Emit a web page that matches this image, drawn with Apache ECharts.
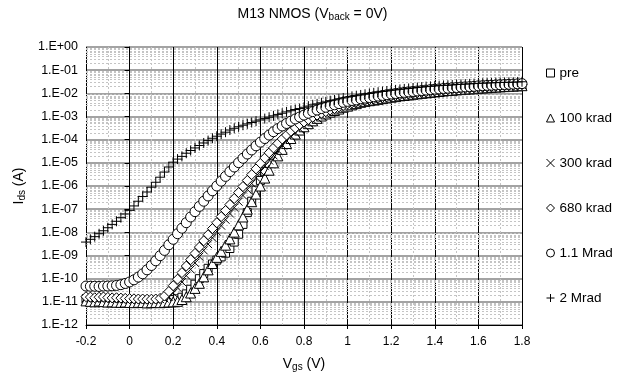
<!DOCTYPE html>
<html>
<head>
<meta charset="utf-8">
<script src="https://cdn.jsdelivr.net/npm/echarts@6/dist/echarts.min.js"></script>
<style>html,body{margin:0;padding:0;background:#fff}#c{width:625px;height:377px}</style>
</head>
<body>
<div id="c"></div>
<script>
// Vgs sweep (V)
const vgs = [-0.2,-0.18,-0.16,-0.14,-0.12,-0.1,-0.08,-0.06,-0.04,-0.02,
0,0.02,0.04,0.06,0.08,0.1,0.12,0.14,0.16,0.18,
0.2,0.22,0.24,0.26,0.28,0.3,0.32,0.34,0.36,0.38,
0.4,0.42,0.44,0.46,0.48,0.5,0.52,0.54,0.56,0.58,
0.6,0.62,0.64,0.66,0.68,0.7,0.72,0.74,0.76,0.78,
0.8,0.82,0.84,0.86,0.88,0.9,0.92,0.94,0.96,0.98,
1,1.02,1.04,1.06,1.08,1.1,1.12,1.14,1.16,1.18,
1.2,1.22,1.24,1.26,1.28,1.3,1.32,1.34,1.36,1.38,
1.4,1.42,1.44,1.46,1.48,1.5,1.52,1.54,1.56,1.58,
1.6,1.62,1.64,1.66,1.68,1.7,1.72,1.74,1.76,1.78,1.8];

// Ids (A) per dose
const idsPre = [1.3e-11,1.25e-11,1.2e-11,1.22e-11,1.28e-11,1.2e-11,1.15e-11,1.18e-11,1.12e-11,1.1e-11,
1.12e-11,1.08e-11,1.05e-11,1.08e-11,1.05e-11,1.1e-11,1.08e-11,1.12e-11,1.15e-11,1.2e-11,1.25e-11,1.35e-11,
1.58e-11,2.2e-11,3.5e-11,5.8e-11,1.0e-10,1.66e-10,2.8e-10,4.3e-10,6.3e-10,8.7e-10,
1.26e-9,2.0e-9,3.8e-9,8.3e-9,2.2e-8,7.1e-8,2.2e-7,6.6e-7,1.74e-6,4.3e-6,
9.5e-6,2.0e-5,3.9e-5,7.1e-5,1.2e-4,1.9e-4,2.8e-4,4.0e-4,5.4e-4,7.1e-4,
8.9e-4,1.1e-3,1.35e-3,1.58e-3,1.86e-3,2.2e-3,2.5e-3,2.9e-3,3.3e-3,
3.6e-3,4.0e-3,4.4e-3,4.8e-3,5.1e-3,5.5e-3,5.9e-3,6.3e-3,6.8e-3,7.2e-3,
7.8e-3,8.3e-3,8.7e-3,9.1e-3,9.8e-3,1.02e-2,1.07e-2,1.12e-2,1.17e-2,1.23e-2,
1.29e-2,1.35e-2,1.41e-2,1.45e-2,1.51e-2,1.55e-2,1.62e-2,1.66e-2,1.7e-2,1.78e-2,
1.82e-2,1.86e-2,1.95e-2,2.0e-2,2.04e-2,2.1e-2,2.14e-2,2.2e-2,2.24e-2,2.3e-2];

const ids100k = [1.1e-11,1.05e-11,1.0e-11,1.08e-11,1.02e-11,9.8e-12,1.0e-11,9.6e-12,9.5e-12,9.8e-12,
9.4e-12,9.2e-12,9.5e-12,9.3e-12,9.0e-12,9.2e-12,9.4e-12,9.2e-12,9.5e-12,9.8e-12,1.0e-11,1.05e-11,
1.26e-11,1.66e-11,2.4e-11,3.8e-11,6.3e-11,1.2e-10,2.4e-10,4.5e-10,8.3e-10,1.51e-9,
2.8e-9,5.2e-9,1.02e-8,2.1e-8,4.6e-8,1.0e-7,2.1e-7,4.5e-7,1.0e-6,2.2e-6,
4.8e-6,1.0e-5,2.0e-5,3.8e-5,6.8e-5,1.12e-4,1.74e-4,2.6e-4,3.6e-4,4.9e-4,
6.5e-4,8.3e-4,1.05e-3,1.29e-3,1.55e-3,1.82e-3,2.1e-3,2.5e-3,2.8e-3,
3.2e-3,3.6e-3,4.1e-3,4.5e-3,4.8e-3,5.1e-3,5.5e-3,5.9e-3,6.3e-3,6.8e-3,
7.2e-3,7.8e-3,8.1e-3,8.5e-3,9.1e-3,9.5e-3,1.0e-2,1.05e-2,1.1e-2,1.15e-2,
1.2e-2,1.26e-2,1.32e-2,1.35e-2,1.41e-2,1.45e-2,1.51e-2,1.55e-2,1.58e-2,1.66e-2,
1.7e-2,1.74e-2,1.82e-2,1.86e-2,1.9e-2,1.95e-2,2.0e-2,2.04e-2,2.1e-2,2.14e-2];

const ids300k = [1.45e-11,1.4e-11,1.38e-11,1.42e-11,1.4e-11,1.35e-11,1.33e-11,1.36e-11,1.3e-11,1.28e-11,
1.25e-11,1.25e-11,1.22e-11,1.2e-11,1.2e-11,1.22e-11,1.25e-11,1.3e-11,
1.4e-11,1.66e-11,2.4e-11,4.0e-11,7.2e-11,1.35e-10,2.5e-10,4.8e-10,8.9e-10,1.66e-9,
3.1e-9,5.8e-9,1.07e-8,1.95e-8,3.5e-8,6.5e-8,1.17e-7,2.1e-7,3.9e-7,7.1e-7,
1.29e-6,2.3e-6,4.2e-6,7.2e-6,1.26e-5,2.1e-5,3.5e-5,5.8e-5,9.1e-5,1.38e-4,
2.0e-4,2.9e-4,4.0e-4,5.2e-4,6.8e-4,8.5e-4,1.07e-3,1.32e-3,1.58e-3,1.9e-3,2.2e-3,2.6e-3,3.0e-3,
3.4e-3,3.8e-3,4.3e-3,4.7e-3,5.0e-3,5.4e-3,5.8e-3,6.2e-3,6.6e-3,7.1e-3,
7.6e-3,8.1e-3,8.5e-3,8.9e-3,9.5e-3,1.0e-2,1.05e-2,1.1e-2,1.15e-2,1.2e-2,
1.26e-2,1.32e-2,1.38e-2,1.41e-2,1.48e-2,1.51e-2,1.58e-2,1.62e-2,1.66e-2,1.74e-2,
1.78e-2,1.82e-2,1.9e-2,1.95e-2,2.0e-2,2.04e-2,2.1e-2,2.14e-2,2.2e-2,2.24e-2];

const ids680k = [1.66e-11,1.6e-11,1.5e-11,1.58e-11,1.62e-11,1.55e-11,1.48e-11,1.5e-11,1.45e-11,1.41e-11,
1.38e-11,1.35e-11,1.32e-11,1.32e-11,1.3e-11,1.3e-11,1.32e-11,
1.41e-11,1.78e-11,2.8e-11,5.0e-11,9.5e-11,1.82e-10,3.5e-10,6.6e-10,1.23e-9,2.3e-9,
4.3e-9,7.9e-9,1.45e-8,2.6e-8,4.8e-8,8.7e-8,1.58e-7,2.9e-7,5.2e-7,9.5e-7,
1.74e-6,3.1e-6,5.5e-6,9.5e-6,1.62e-5,2.7e-5,4.4e-5,6.9e-5,1.07e-4,1.58e-4,
2.3e-4,3.2e-4,4.4e-4,5.8e-4,7.4e-4,9.3e-4,1.15e-3,1.38e-3,1.62e-3,1.9e-3,2.2e-3,2.6e-3,3.0e-3,
3.5e-3,3.9e-3,4.3e-3,4.7e-3,5.0e-3,5.4e-3,5.8e-3,6.2e-3,6.6e-3,7.1e-3,
7.6e-3,8.1e-3,8.7e-3,9.1e-3,9.5e-3,1.0e-2,1.07e-2,1.12e-2,1.17e-2,1.23e-2,
1.29e-2,1.35e-2,1.41e-2,1.45e-2,1.51e-2,1.55e-2,1.62e-2,1.66e-2,1.7e-2,1.78e-2,
1.82e-2,1.86e-2,1.9e-2,2.0e-2,2.04e-2,2.1e-2,2.14e-2,2.2e-2,2.24e-2,2.3e-2,2.35e-2];

const ids1M1 = [4.8e-11,4.7e-11,4.7e-11,4.6e-11,4.8e-11,4.8e-11,4.9e-11,5.1e-11,5.5e-11,6.2e-11,
7.2e-11,8.9e-11,1.17e-10,1.62e-10,2.4e-10,3.7e-10,5.9e-10,9.8e-10,1.66e-9,2.9e-9,
5.0e-9,8.7e-9,1.51e-8,2.6e-8,4.6e-8,7.8e-8,1.32e-7,2.2e-7,3.7e-7,6.2e-7,
1.0e-6,1.62e-6,2.6e-6,4.2e-6,6.6e-6,1.02e-5,1.58e-5,2.4e-5,3.6e-5,5.4e-5,
7.8e-5,1.12e-4,1.58e-4,2.2e-4,3.0e-4,3.9e-4,5.0e-4,6.3e-4,7.8e-4,9.5e-4,
1.15e-3,1.38e-3,1.62e-3,1.9e-3,2.2e-3,2.5e-3,2.9e-3,3.2e-3,3.6e-3,4.1e-3,
4.5e-3,4.9e-3,5.2e-3,5.8e-3,6.2e-3,6.6e-3,7.1e-3,7.6e-3,8.1e-3,8.7e-3,
9.3e-3,9.8e-3,1.05e-2,1.1e-2,1.15e-2,1.2e-2,1.26e-2,1.32e-2,1.38e-2,1.45e-2,
1.51e-2,1.55e-2,1.62e-2,1.66e-2,1.74e-2,1.78e-2,1.86e-2,1.9e-2,1.95e-2,2.0e-2,
2.1e-2,2.14e-2,2.2e-2,2.24e-2,2.3e-2,2.35e-2,2.4e-2,2.45e-2,2.5e-2,2.57e-2,2.63e-2];

const ids2M = [3.8e-9,5.0e-9,6.5e-9,8.7e-9,1.17e-8,1.58e-8,2.2e-8,3.0e-8,4.3e-8,6.2e-8,
8.9e-8,1.38e-7,2.2e-7,3.5e-7,5.5e-7,8.9e-7,1.45e-6,2.4e-6,4.0e-6,6.6e-6,
1.07e-5,1.45e-5,1.9e-5,2.6e-5,3.4e-5,4.4e-5,5.6e-5,7.2e-5,9.1e-5,1.15e-4,
1.41e-4,1.74e-4,2.1e-4,2.6e-4,3.1e-4,3.6e-4,4.2e-4,4.8e-4,5.5e-4,6.3e-4,
7.1e-4,8.1e-4,9.3e-4,1.07e-3,1.23e-3,1.38e-3,1.58e-3,1.78e-3,2.0e-3,2.2e-3,
2.5e-3,2.8e-3,3.2e-3,3.5e-3,3.9e-3,4.3e-3,4.8e-3,5.2e-3,5.8e-3,6.3e-3,
6.9e-3,7.4e-3,7.9e-3,8.5e-3,9.1e-3,9.8e-3,1.05e-2,1.12e-2,1.2e-2,1.26e-2,
1.35e-2,1.41e-2,1.48e-2,1.55e-2,1.62e-2,1.7e-2,1.78e-2,1.86e-2,1.95e-2,2.0e-2,
2.1e-2,2.14e-2,2.2e-2,2.24e-2,2.3e-2,2.4e-2,2.45e-2,2.5e-2,2.57e-2,2.63e-2,
2.7e-2,2.75e-2,2.8e-2,2.83e-2,2.9e-2,2.95e-2,2.97e-2,3.0e-2,3.02e-2,3.1e-2,3.16e-2];

const seriesNames = ['pre','100 krad','300 krad','680 krad','1.1 Mrad','2 Mrad'];
const seriesValues = [idsPre, ids100k, ids300k, ids680k, ids1M1, ids2M];

const FONT = 'Liberation Sans, Arial, sans-serif';
const symbols = ['rect','triangle','path://M0,0L10,10M0,10L10,0','diamond','circle','path://M5,0L5,10M0,5L10,5'];
const sizes = [8,10,8,10,10,10];
const X_MIN = -0.2, X_MAX = 1.8;

// log-minor grid positions (2..9 x 10^n)
const minorLines = [];
for (let e = -12; e < 0; e++) for (let m = 2; m <= 9; m++) minorLines.push([X_MIN, m * Math.pow(10, e)]);

const series = seriesNames.map((name, k) => ({
  name: name,
  type: 'scatter',
  symbol: symbols[k],
  symbolSize: sizes[k],
  itemStyle: {color: '#fff', borderColor: '#000', borderWidth: 1, opacity: 1},
  data: vgs.map((v, i) => [v, seriesValues[k][i]]),
  z: 3 + k
}));
series.unshift({
  name: 'minorgrid', type: 'custom', silent: true, z: 1,
  data: minorLines,
  renderItem: function (params, api) {
    const y = api.value(1);
    const p1 = api.coord([X_MIN, y]);
    const p2 = api.coord([X_MAX, y]);
    return {type: 'line', shape: {x1: p1[0], y1: Math.round(p1[1]) + 0.5, x2: p2[0], y2: Math.round(p2[1]) + 0.5},
      style: {stroke: '#c4c4c4', lineWidth: 1, lineDash: [2, 2], fill: null}};
  }
});

const rich = {
  a: {fontSize: 14, fontFamily: FONT, color: '#000', lineHeight: 16, fontWeight: 'normal'},
  s: {fontSize: 10, fontFamily: FONT, color: '#000', lineHeight: 10, padding: [6,0,0,0], fontWeight: 'normal'}
};

const chart = echarts.init(document.getElementById('c'), null, {renderer: 'canvas'});
chart.setOption({
  animation: false,
  backgroundColor: '#fff',
  title: {text: '{a|M13 NMOS (V}{s|back}{a| = 0V)}', left: 'center', top: 1,
    textStyle: {rich: rich, fontWeight: 'normal'}},
  grid: {left: 86, right: 103, top: 47, bottom: 52},
  legend: {
    orient: 'vertical', left: 541, top: 61, itemGap: 31, itemWidth: 8, itemHeight: 8,
    data: seriesNames,
    itemStyle: {borderWidth: 1, borderColor: '#000', color: '#fff'},
    textStyle: {fontFamily: FONT, fontSize: 13.5, color: '#000', lineHeight: 14}
  },
  xAxis: {
    type: 'value', min: X_MIN, max: X_MAX, interval: 0.2,
    name: '{a|V}{s|gs}{a| (V)}', nameLocation: 'middle', nameGap: 31,
    nameTextStyle: {rich: rich},
    axisLine: {lineStyle: {color: '#000', width: 1}},
    axisTick: {show: true, length: 4, lineStyle: {color: '#000'}},
    axisLabel: {fontFamily: FONT, fontSize: 12, color: '#000', margin: 11},
    splitLine: {show: true, lineStyle: {color: '#000', width: 1}},
    minorTick: {show: false, splitNumber: 2},
    minorSplitLine: {show: true, lineStyle: {color: '#c4c4c4', width: 1, type: [2,2]}}
  },
  yAxis: {
    type: 'log', logBase: 10, min: 1e-12, max: 1, interval: 1,
    name: '{a|I}{s|ds}{a| (A)}', nameLocation: 'middle', nameGap: 53, nameRotate: 90,
    nameTextStyle: {rich: rich},
    axisLine: {show: true, lineStyle: {color: '#000', width: 1}},
    axisTick: {show: true, length: 5, lineStyle: {color: '#000'}},
    axisLabel: {fontFamily: FONT, fontSize: 12.5, color: '#000', margin: 8,
      formatter: function (v) {
        const e = Math.round(Math.log10(v));
        const a = Math.abs(e);
        return '1.E' + (e < 0 ? '-' : '+') + (a < 10 ? '0' + a : '' + a);
      }},
    splitLine: {show: true, lineStyle: {color: '#858585', width: 1.5}}
  },
  series: series
});
</script>
</body>
</html>
